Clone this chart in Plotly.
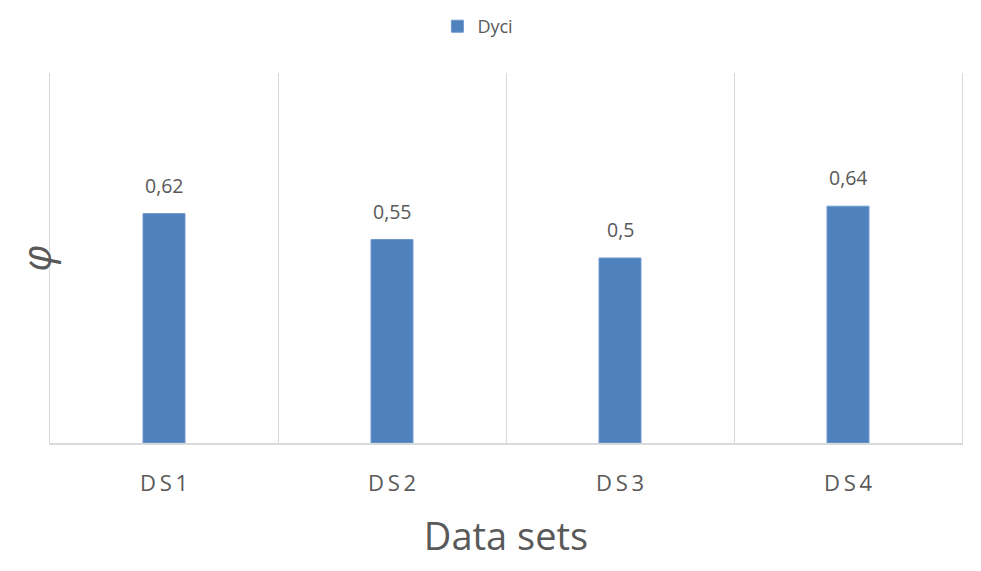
import plotly.graph_objects as go

categories = ["DS1", "DS2", "DS3", "DS4"]
dyci = [0.62, 0.55, 0.5, 0.64]
tick_labels = ["D\u2009S\u20091", "D\u2009S\u20092", "D\u2009S\u20093", "D\u2009S\u20094"]

labels = [f"{v:g}".replace(".", ",") for v in dyci]

fig = go.Figure()
fig.add_trace(go.Bar(
    x=categories, y=dyci, name="Dyci",
    marker=dict(color="#4F81BD", line=dict(color="#6F98CE", width=1)),
    width=0.184,
))

for c, v, t in zip(categories, dyci, labels):
    fig.add_annotation(x=c, y=v, text=t, showarrow=False, yanchor="bottom",
                       yshift=13, font=dict(size=19.5, color="#595959"))

# page body adds ~8px offset, so margins are shifted to compensate
fig.update_layout(
    width=981, height=571,
    margin=dict(l=42, r=27, t=65, b=136, autoexpand=False),
    paper_bgcolor="white", plot_bgcolor="white",
    font=dict(family="Open Sans", color="#595959"),
    showlegend=True,
    legend=dict(orientation="h", x=0.479, xanchor="center", xref="container",
                y=1.0, yanchor="top", yref="container",
                font=dict(size=18, color="#595959")),
    bargap=0.5,
)
fig.update_xaxes(
    type="category", tickmode="array", tickvals=categories, ticktext=tick_labels,
    tickson="boundaries", showgrid=True, gridcolor="#D9D9D9", gridwidth=1.3,
    ticks="", showline=True, linecolor="#D9D9D9", linewidth=2, mirror=False,
    tickfont=dict(size=22, color="#595959"), ticklabelstandoff=20,
    title=dict(text="Data sets", font=dict(size=38, color="#595959"), standoff=27),
    range=[-0.5, 3.5], automargin=False,
)
fig.update_yaxes(
    range=[0, 1], showgrid=False, showticklabels=False, zeroline=False,
    showline=True, linecolor="#D9D9D9", linewidth=1.3, mirror=True,
    title=dict(text="<i>φ</i>", font=dict(size=40, color="#595959"), standoff=0),
    automargin=False,
)

fig.write_html("out.html")
